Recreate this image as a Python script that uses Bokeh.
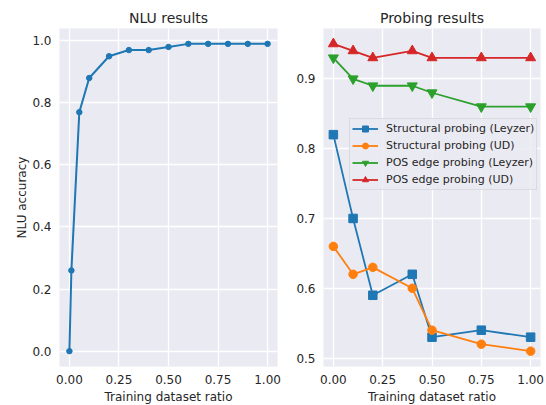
from bokeh.plotting import figure
from bokeh.layouts import row
from bokeh.models import FixedTicker, NumeralTickFormatter, Range1d, Legend, LegendItem
from bokeh.embed import file_html
from bokeh.resources import INLINE

# ---- data ----
nlu_ratio = [0.0, 0.01, 0.05, 0.1, 0.2, 0.3, 0.4, 0.5, 0.6, 0.7, 0.8, 0.9, 1.0]
nlu_accuracy = [0.0, 0.26, 0.77, 0.88, 0.95, 0.97, 0.97, 0.98, 0.99, 0.99, 0.99, 0.99, 0.99]

probe_ratio = [0.0, 0.1, 0.2, 0.4, 0.5, 0.75, 1.0]
struct_leyzer = [0.82, 0.70, 0.59, 0.62, 0.53, 0.54, 0.53]
struct_ud = [0.66, 0.62, 0.63, 0.60, 0.54, 0.52, 0.51]
pos_leyzer = [0.93, 0.90, 0.89, 0.89, 0.88, 0.86, 0.86]
pos_ud = [0.95, 0.94, 0.93, 0.94, 0.93, 0.93, 0.93]

series_names = ["Structural probing (Leyzer)", "Structural probing (UD)",
                "POS edge probing (Leyzer)", "POS edge probing (UD)"]

x_ticks = [0.0, 0.25, 0.5, 0.75, 1.0]
nlu_y_ticks = [0.0, 0.2, 0.4, 0.6, 0.8, 1.0]
probe_y_ticks = [0.5, 0.6, 0.7, 0.8, 0.9]

FONT = "DejaVu Sans"
TXT = "#262626"
BG = "#EAEAF2"


def style(p, title):
    p.background_fill_color = BG
    p.border_fill_color = "white"
    p.outline_line_color = None
    p.title.text = title
    p.title.text_font = FONT
    p.title.text_font_size = "14px"
    p.title.text_font_style = "normal"
    p.title.text_color = TXT
    p.title.align = "center"
    p.title.standoff = 6
    p.grid.grid_line_color = "white"
    p.grid.grid_line_width = 1.3
    for ax in p.xaxis + p.yaxis:
        ax.axis_line_color = None
        ax.major_tick_line_color = None
        ax.minor_tick_line_color = None
        ax.major_tick_out = 0
        ax.major_tick_in = 0
        ax.minor_tick_out = 0
        ax.minor_tick_in = 0
        ax.major_label_text_font = FONT
        ax.major_label_text_font_size = "12px"
        ax.major_label_text_color = TXT
        ax.axis_label_text_font = FONT
        ax.axis_label_text_font_size = "12px"
        ax.axis_label_text_font_style = "normal"
        ax.axis_label_text_color = TXT
    p.xaxis.major_label_standoff = 8
    p.xaxis.axis_label_standoff = 3
    p.yaxis.major_label_standoff = 8
    p.yaxis.axis_label_standoff = 0
    p.xaxis.ticker = FixedTicker(ticks=x_ticks)
    p.xaxis.formatter = NumeralTickFormatter(format="0.00")
    p.xaxis.axis_label = "Training dataset ratio"


# ---- left: NLU results ----
p1 = figure(frame_width=218, frame_height=338, output_backend="svg", toolbar_location=None,
            x_range=Range1d(-0.05, 1.05), y_range=Range1d(-0.0495, 1.0395),
            min_border_left=59, min_border_right=13, min_border_top=28, min_border_bottom=39)
style(p1, "NLU results")
p1.yaxis.ticker = FixedTicker(ticks=nlu_y_ticks)
p1.yaxis.formatter = NumeralTickFormatter(format="0.0")
p1.yaxis.axis_label = "NLU accuracy"
p1.line(nlu_ratio, nlu_accuracy, line_color="#1f77b4", line_width=2)
p1.scatter(nlu_ratio, nlu_accuracy, marker="circle", size=5.5,
           fill_color="#1f77b4", line_color="#1f77b4")

# ---- right: Probing results ----
p2 = figure(frame_width=217, frame_height=338, output_backend="svg", toolbar_location=None,
            x_range=Range1d(-0.05, 1.05), y_range=Range1d(0.488, 0.972),
            min_border_left=33, min_border_right=6, min_border_top=28, min_border_bottom=39)
style(p2, "Probing results")
p2.yaxis.ticker = FixedTicker(ticks=probe_y_ticks)
p2.yaxis.formatter = NumeralTickFormatter(format="0.0")

colors = ["#1f77b4", "#ff7f0e", "#2ca02c", "#d62728"]
markers = ["square", "circle", "inverted_triangle", "triangle"]
sizes = [8.5, 8.5, 10, 10]
values = [struct_leyzer, struct_ud, pos_leyzer, pos_ud]

items = []
for name, c, m, s, v in zip(series_names, colors, markers, sizes, values):
    l = p2.line(probe_ratio, v, line_color=c, line_width=1.8)
    sc = p2.scatter(probe_ratio, v, marker=m, size=s, fill_color=c, line_color=c)
    items.append(LegendItem(label=name, renderers=[l, sc]))

legend = Legend(items=items, location=(26, 176))
legend.label_text_font = FONT
legend.label_text_font_size = "11px"
legend.label_text_color = TXT
legend.glyph_width = 26
legend.glyph_height = 15
legend.spacing = 2
legend.padding = 2
legend.margin = 0
legend.label_standoff = 8
legend.label_height = 15
legend.background_fill_color = BG
legend.background_fill_alpha = 0.85
legend.border_line_color = "#cccccc"
legend.border_line_width = 1
p2.add_layout(legend, "center")

layout = row(p1, p2)
open("out.html", "w").write(file_html(layout, INLINE))
